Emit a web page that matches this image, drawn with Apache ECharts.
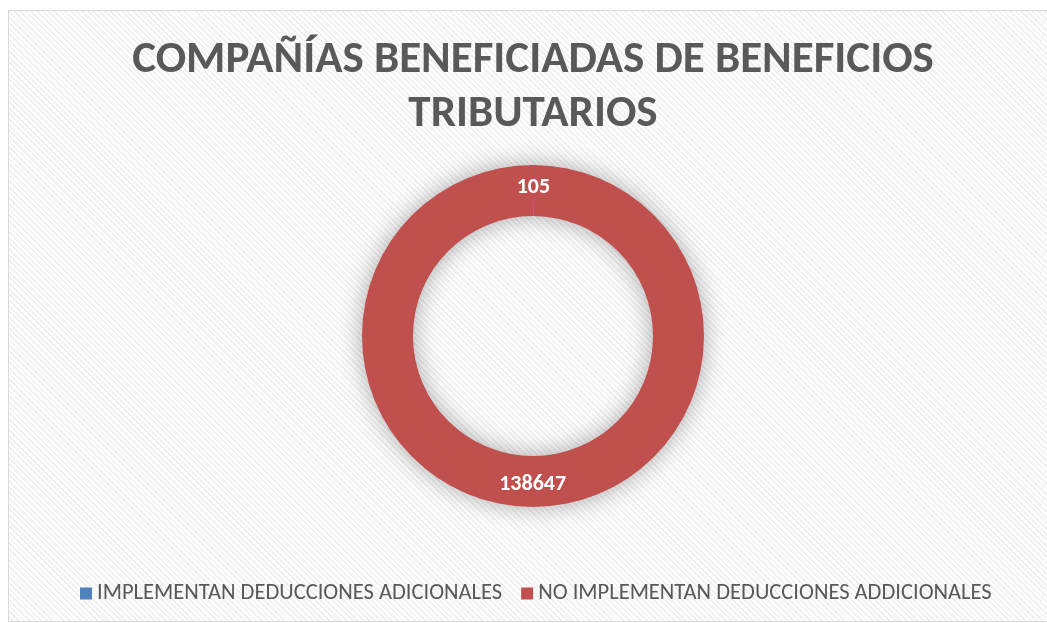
<!DOCTYPE html>
<html>
<head>
<meta charset="utf-8">
<script src="https://cdn.jsdelivr.net/npm/echarts@6/dist/echarts.min.js"></script>
<style>
    html, body {
        margin: 0;
        padding: 0;
        width: 1047px;
        height: 623px;
        background: #ffffff;
        overflow: hidden;
    }
    .frame {
        position: absolute;
        left: 8px;
        top: 10px;
        width: 1045px;
        height: 610px;
        border: 1px solid #d9d9d9;
        background: repeating-linear-gradient(45deg, #ffffff 0px, #ffffff 2px, #f1f1f1 2px, #f1f1f1 4px);
    }
    #chart {
        position: absolute;
        left: 0;
        top: 0;
        width: 1047px;
        height: 623px;
    }
</style>
</head>
<body>
<div class="frame"></div>
<div id="chart"></div>
<script>
    // datos
    const categories = ['IMPLEMENTAN DEDUCCIONES ADICIONALES', 'NO IMPLEMENTAN DEDUCCIONES ADDICIONALES']
    const values = [105, 138647]
    const colors = ['#4F81BD', '#C0504D']

    const chart = echarts.init(document.getElementById('chart'))

    chart.setOption({
        backgroundColor: 'transparent',
        title: {
            text: 'COMPAÑÍAS BENEFICIADAS DE BENEFICIOS\nTRIBUTARIOS',
            left: 528,
            textAlign: 'center',
            top: 29,
            textStyle: {
                fontFamily: 'Carlito, sans-serif',
                fontSize: 45,
                fontWeight: 'bold',
                color: '#595959',
                lineHeight: 54
            }
        },
        legend: {
            data: categories,
            left: 75,
            top: 577,
            icon: 'rect',
            itemWidth: 12,
            itemHeight: 12,
            itemGap: 19,
            textStyle: {
                fontFamily: 'Carlito, sans-serif',
                fontSize: 22.5,
                color: '#595959'
            }
        },
        series: [{
            type: 'pie',
            center: [533, 336],
            radius: [120, 171],
            startAngle: 90,
            clockwise: true,
            avoidLabelOverlap: false,
            label: {
                show: true,
                position: 'inside',
                formatter: '{c}',
                color: '#ffffff',
                fontFamily: 'Carlito, sans-serif',
                fontWeight: 'bold',
                fontSize: 22
            },
            labelLine: { show: false },
            itemStyle: {
                borderWidth: 0,
                shadowBlur: 24,
                shadowColor: 'rgba(0,0,0,0.33)'
            },
            emphasis: { scale: false },
            data: categories.map((name, i) => ({
                name: name,
                value: values[i],
                itemStyle: { color: colors[i] }
            }))
        }]
    })
</script>
</body>
</html>
